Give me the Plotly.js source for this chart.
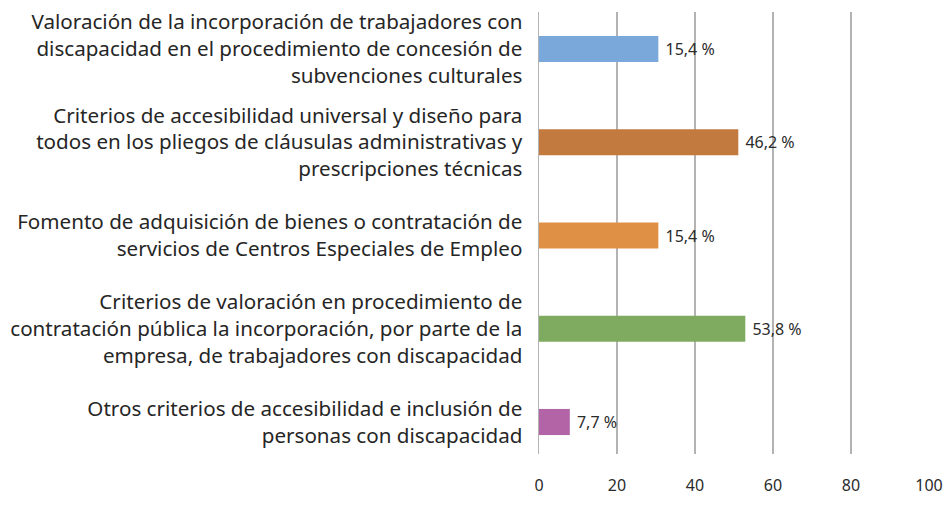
<!DOCTYPE html>
<html>
<head>
<meta charset="utf-8">
<script src="https://cdn.plot.ly/plotly-3.0.1.min.js"></script>
<style>
  html, body { margin: 0; padding: 0; background: #fff; }
  #chart { width: 947px; height: 508px; }
</style>
</head>
<body>
<div id="chart"></div>
<script>
// categories, top to bottom
var categories = [
    "Valoración de la incorporación de trabajadores con<br>discapacidad en el procedimiento de concesión de<br>subvenciones culturales",
    "Criterios de accesibilidad universal y diseño para<br>todos en los pliegos de cláusulas administrativas y<br>prescripciones técnicas",
    "Fomento de adquisición de bienes o contratación de<br>servicios de Centros Especiales de Empleo",
    "Criterios de valoración en procedimiento de<br>contratación pública la incorporación, por parte de la<br>empresa, de trabajadores con discapacidad",
    "Otros criterios de accesibilidad e inclusión de<br>personas con discapacidad"
];
// bar lengths as drawn in the picture
var barValues = [30.6, 51.1, 30.6, 52.9, 7.9];
// data labels as printed
var labelText = ["15,4 %", "46,2 %", "15,4 %", "53,8 %", "7,7 %"];
var barColors = ["#7aa8da", "#c27a3f", "#e09044", "#7fab61", "#b264a6"];
var xTicks = [0, 20, 40, 60, 80, 100];

var trace = {
    type: 'bar',
    orientation: 'h',
    y: categories,
    x: barValues,
    text: labelText.map(function (t) { return ' ' + t; }),
    textposition: 'outside',
    cliponaxis: false,
    textfont: { family: 'Noto Sans, sans-serif', size: 16, color: '#2b2b2b' },
    marker: { color: barColors },
    hoverinfo: 'none'
};

var layout = {
    width: 947,
    height: 508,
    margin: { l: 539, r: 18, t: 12, b: 54, pad: 0 },
    paper_bgcolor: '#fff',
    plot_bgcolor: '#fff',
    showlegend: false,
    bargap: 0.72,
    font: { family: 'Noto Sans, sans-serif', color: '#262626' },
    xaxis: {
        range: [0, 100],
        tickvals: xTicks,
        ticktext: xTicks.map(String),
        showgrid: true,
        gridcolor: '#b3b3b3',
        gridwidth: 1.5,
        zeroline: false,
        showline: false,
        ticks: '',
        ticklabelstandoff: 20,
        tickfont: { size: 16, color: '#2b2b2b' },
        fixedrange: true
    },
    yaxis: {
        type: 'category',
        range: [4.343, -0.397],
        showgrid: false,
        zeroline: false,
        showline: true,
        linecolor: '#b3b3b3',
        linewidth: 1.5,
        ticks: '',
        ticklabelstandoff: 11,
        tickfont: { size: 20.6, color: '#262626' },
        fixedrange: true
    }
};

Plotly.newPlot('chart', [trace], layout, { displayModeBar: false, staticPlot: true });
</script>
</body>
</html>
